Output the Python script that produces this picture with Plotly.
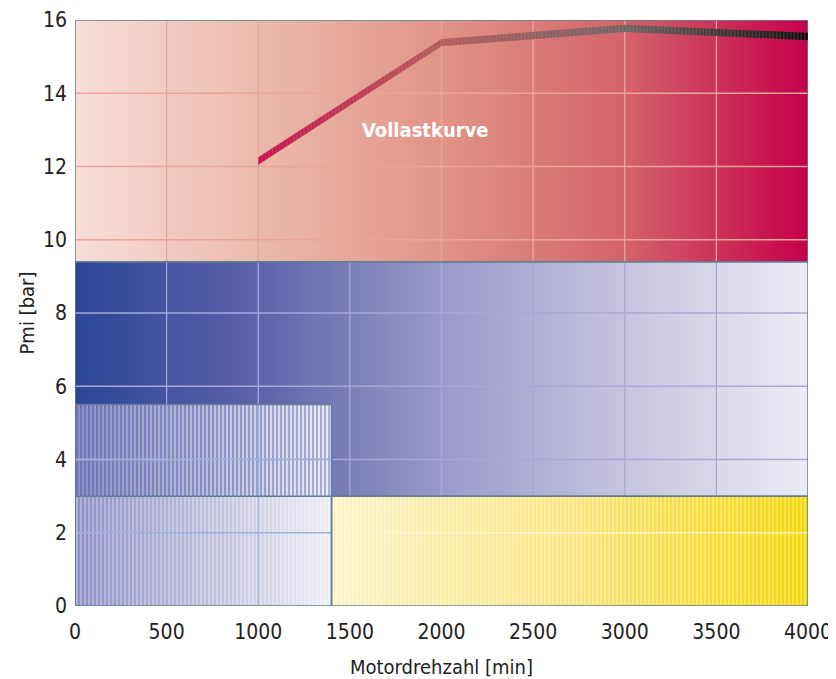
import plotly.graph_objects as go

# ---------------- data ----------------
x_ticks = [0, 500, 1000, 1500, 2000, 2500, 3000, 3500, 4000]
y_ticks = [0, 2, 4, 6, 8, 10, 12, 14, 16]

x_min, x_max = 0, 4000
y_min, y_max = 0, 16

# region bounds (rpm / bar)
red_bottom = 9.4          # lower edge of the upper (red) zone
blue_bottom = 3.0         # lower edge of the blue zone
box_right = 1400          # right edge of hatched low-rpm box
box_top = 5.5             # upper edge of hatched low-rpm box

# full-load curve (Vollastkurve)
curve_rpm = [1000, 2000, 3000, 4000]
curve_pmi = [12.15, 15.38, 15.77, 15.55]
curve_halfwidth = 0.1

FONT = "DejaVu Sans Condensed, Liberation Sans Narrow, Roboto, sans-serif"
BORDER = "#5f7f94"

fig = go.Figure()


def rect(x0, x1, y0, y1):
    return [x0, x1, x1, x0, x0], [y0, y0, y1, y1, y0]


def grad_rect(x0, x1, y0, y1, scale):
    xs, ys = rect(x0, x1, y0, y1)
    fig.add_trace(go.Scatter(
        x=xs, y=ys, mode="lines", fill="toself", line=dict(width=0),
        fillgradient=dict(type="horizontal", colorscale=scale, start=x0, stop=x1),
        hoverinfo="skip", showlegend=False))


def pattern_rect(x0, x1, y0, y1, color, size, solidity):
    xs, ys = rect(x0, x1, y0, y1)
    fig.add_trace(go.Scatter(
        x=xs, y=ys, mode="lines", fill="toself", line=dict(width=0),
        fillcolor="rgba(0,0,0,0)",
        fillpattern=dict(shape="|", fgcolor=color, bgcolor="rgba(0,0,0,0)",
                         size=size, solidity=solidity, fillmode="overlay"),
        hoverinfo="skip", showlegend=False))


def grid(x0, x1, y0, y1, color, vertical=True, horizontal=True):
    gx, gy = [], []
    if vertical:
        for t in x_ticks:
            if x0 < t < x1:
                gx += [t, t, None]
                gy += [y0, y1, None]
    if horizontal:
        for t in y_ticks:
            if y0 < t < y1:
                gx += [x0, x1, None]
                gy += [t, t, None]
    fig.add_trace(go.Scatter(x=gx, y=gy, mode="lines",
                             line=dict(color=color, width=1.3),
                             hoverinfo="skip", showlegend=False))


def outline(x0, x1, y0, y1):
    xs, ys = rect(x0, x1, y0, y1)
    fig.add_trace(go.Scatter(x=xs, y=ys, mode="lines",
                             line=dict(color=BORDER, width=1.5),
                             hoverinfo="skip", showlegend=False))


# red zone
grad_rect(x_min, x_max, red_bottom, y_max,
          [[0, "#f7ded7"], [0.25, "#ebbaac"], [0.5, "#e19488"],
           [0.75, "#d3636a"], [1, "#c5004a"]])
# blue zone
grad_rect(x_min, x_max, blue_bottom, red_bottom,
          [[0, "#2b4597"], [0.25, "#5c63a9"], [0.5, "#9b99c9"],
           [0.75, "#c6c4df"], [1, "#edebf4"]])
# yellow zone
grad_rect(box_right, x_max, y_min, blue_bottom,
          [[0, "#fff3c6"], [0.5, "#fbe47c"], [1, "#f6d600"]])
pattern_rect(box_right, x_max, y_min, blue_bottom, "white", 4, 0.3)
# hatched low-rpm box
grad_rect(x_min, box_right, y_min, box_top,
          [[0, "#8e8ec6"], [0.5, "#bcbcdc"], [1, "#efeef6"]])
pattern_rect(x_min, box_right, blue_bottom, box_top, "#34449f", 4, 0.38)
pattern_rect(x_min, box_right, y_min, blue_bottom, "white", 4, 0.3)

# grid lines per zone
grid(x_min, x_max, red_bottom, y_max, "#eba597")
grid(x_min, x_max, blue_bottom, red_bottom, "#a9a7d8")
grid(box_right, x_max, y_min, blue_bottom, "rgba(255,248,215,0.8)", vertical=False)
grid(x_min, box_right, y_min, box_top, "#9fb2dc")

# outlines
outline(x_min, x_max, red_bottom, y_max)
outline(x_min, x_max, blue_bottom, red_bottom)
outline(box_right, x_max, y_min, blue_bottom)
outline(x_min, box_right, y_min, box_top)

# full-load curve as a gradient ribbon
rib_x = curve_rpm + curve_rpm[::-1] + [curve_rpm[0]]
rib_y = ([p + curve_halfwidth for p in curve_pmi]
         + [p - curve_halfwidth for p in curve_pmi[::-1]]
         + [curve_pmi[0] + curve_halfwidth])
fig.add_trace(go.Scatter(
    x=rib_x, y=rib_y, mode="lines", fill="toself", line=dict(width=0),
    fillgradient=dict(type="horizontal",
                      colorscale=[[0, "#c8124a"], [0.33, "#b25c5c"],
                                  [0.67, "#6e6464"], [1, "#0c0c0c"]],
                      start=curve_rpm[0], stop=curve_rpm[-1]),
    hoverinfo="skip", showlegend=False))
fig.add_trace(go.Scatter(
    x=rib_x, y=rib_y, mode="lines", fill="toself", line=dict(width=0),
    fillcolor="rgba(0,0,0,0)",
    fillpattern=dict(shape="|", fgcolor="rgba(225,140,135,0.6)",
                     bgcolor="rgba(0,0,0,0)", size=3.5, solidity=0.3,
                     fillmode="overlay"),
    hoverinfo="skip", showlegend=False))

fig.add_annotation(x=1910, y=13.0, text="<b>Vollastkurve</b>", showarrow=False,
                   font=dict(family=FONT, size=20, color="white"))

# the page body adds an 8 px offset, so the figure is 8 px smaller than the window
fig.update_layout(
    width=828, height=671,
    margin=dict(l=67, r=28, t=12, b=73, autoexpand=False),
    paper_bgcolor="white", plot_bgcolor="white",
    font=dict(family=FONT, size=21, color="#222222"),
    xaxis=dict(range=[x_min, x_max], tickvals=x_ticks, showgrid=False,
               zeroline=False, showline=False, ticks="", automargin=False,
               ticklabelstandoff=11,
               title=dict(text="Motordrehzahl [min]", font=dict(size=20),
                          standoff=17)),
    yaxis=dict(range=[y_min, y_max], tickvals=y_ticks, showgrid=False,
               zeroline=False, showline=False, ticks="", automargin=False,
               ticklabelstandoff=7,
               title=dict(text="Pmi [bar]", font=dict(size=20), standoff=2)),
)

fig.write_html("out.html")
